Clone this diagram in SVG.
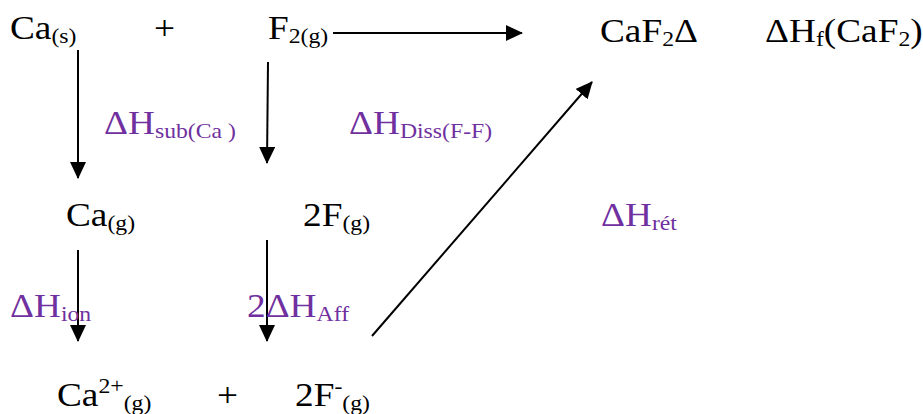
<svg xmlns="http://www.w3.org/2000/svg" width="923" height="414" viewBox="0 0 923 414">
<style>
text{font-size:33px;fill:#000}
.p{fill:#7030A0}
.s{font-size:21px}
line{stroke:#000;stroke-width:2}
</style>
<defs>
<marker id="ah" markerWidth="18" markerHeight="16" refX="16" refY="8" orient="auto" markerUnits="userSpaceOnUse">
<path d="M0,0 L17,8 L0,16 z" fill="#000"/>
</marker>
</defs>
<rect width="923" height="414" fill="#fff"/>
<g id="connectors">
<line x1="78" y1="50" x2="78" y2="178" marker-end="url(#ah)"/>
<line x1="268" y1="62" x2="267" y2="163" marker-end="url(#ah)"/>
<line x1="333" y1="33" x2="522" y2="33" marker-end="url(#ah)"/>
<line x1="78" y1="250" x2="78" y2="341" marker-end="url(#ah)"/>
<line x1="267" y1="240" x2="267" y2="341" marker-end="url(#ah)"/>
<line x1="372" y1="336" x2="592" y2="82" marker-end="url(#ah)"/>
</g>
<g font-family="Liberation Serif, Times New Roman, serif">
<g id="ca-s" transform="translate(10,0) scale(1.13,1)"><text x="0" y="39">Ca<tspan class="s" dy="4">(s)</tspan></text></g>
<g id="plus1" transform="translate(154,0) scale(1.13,1)"><text x="0" y="39">+</text></g>
<g id="f2-g" transform="translate(268,0) scale(1.13,1)"><text x="0" y="39">F<tspan class="s" dy="4">2(g)</tspan></text></g>
<g id="caf2" transform="translate(600,0) scale(1.13,1)"><text x="0" y="42">CaF<tspan class="s" dy="4">2</tspan><tspan dy="-4">Δ</tspan></text></g>
<g id="dhf" transform="translate(765,0) scale(1.13,1)"><text x="0" y="42">ΔH<tspan class="s" dy="4">f</tspan><tspan dy="-4">(CaF</tspan><tspan class="s" dy="4">2</tspan><tspan dy="-4">)</tspan></text></g>
<g id="lbl-sub" transform="translate(104,0) scale(1.13,1)"><text class="p" x="0" y="134">ΔH<tspan class="s" dy="4">sub(Ca )</tspan></text></g>
<g id="lbl-diss" transform="translate(349,0) scale(1.13,1)"><text class="p" x="0" y="134">ΔH<tspan class="s" dy="4">Diss(F-F)</tspan></text></g>
<g id="ca-g" transform="translate(66,0) scale(1.13,1)"><text x="0" y="226">Ca<tspan class="s" dy="4">(g)</tspan></text></g>
<g id="f-g" transform="translate(303,0) scale(1.13,1)"><text x="0" y="226">2F<tspan class="s" dy="4">(g)</tspan></text></g>
<g id="lbl-ret" transform="translate(601,0) scale(1.13,1)"><text class="p" x="0" y="226">ΔH<tspan class="s" dy="4">rét</tspan></text></g>
<g id="lbl-ion" transform="translate(10,0) scale(1.13,1)"><text class="p" x="0" y="317">ΔH<tspan class="s" dy="4">ion</tspan></text></g>
<g id="lbl-aff" transform="translate(247,0) scale(1.13,1)"><text class="p" x="0" y="317">2ΔH<tspan class="s" dy="4">Aff</tspan></text></g>
<g id="ca2" transform="translate(57,0) scale(1.13,1)"><text x="0" y="406">Ca<tspan class="s" dy="-13">2+</tspan><tspan class="s" dy="17">(g)</tspan></text></g>
<g id="plus2" transform="translate(217,0) scale(1.13,1)"><text x="0" y="406">+</text></g>
<g id="f-minus" transform="translate(295,0) scale(1.13,1)"><text x="0" y="406">2F<tspan class="s" dy="-13">-</tspan><tspan class="s" dy="17">(g)</tspan></text></g>
</g>
</svg>
